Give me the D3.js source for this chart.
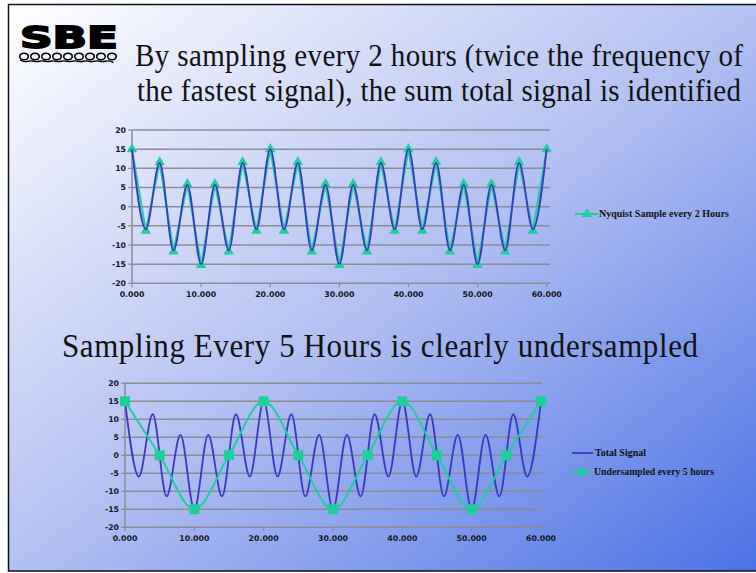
<!DOCTYPE html>
<html>
<head>
<meta charset="utf-8">
<script src="https://cdn.jsdelivr.net/npm/d3@7"></script>
<style>
  html, body { margin: 0; padding: 0; background: #ffffff; }
  svg { display: block; }
</style>
</head>
<body>
<svg id="slide" width="756" height="573"></svg>
<script>
// ---- Data -------------------------------------------------------------
// Sample times (hours) for the 2-hour series
const hours2 = [0, 2, 4, 6, 8, 10, 12, 14, 16, 18, 20, 22, 24, 26, 28, 30,
                32, 34, 36, 38, 40, 42, 44, 46, 48, 50, 52, 54, 56, 58, 60];
// Sum of the component signals, at its turning points
const totalSignal = [15, -5.9, 11.4, -11.4, 5.7, -15, 5.7, -11.4, 11.4, -5.9,
                     15, -5.9, 11.4, -11.4, 5.7, -15, 5.7, -11.4, 11.4, -5.9,
                     15, -5.9, 11.4, -11.4, 5.7, -15, 5.7, -11.4, 11.4, -5.9, 15];
// Samples taken every 2 hours
const nyquistSample = [15, -6.3, 11.6, -11.7, 5.9, -15.2, 5.9, -11.7, 11.6, -6.3,
                       15, -6.3, 11.6, -11.7, 5.9, -15.2, 5.9, -11.7, 11.6, -6.3,
                       15, -6.3, 11.6, -11.7, 5.9, -15.2, 5.9, -11.7, 11.6, -6.3, 15];
// Samples taken every 5 hours
const hours5 = [0, 5, 10, 15, 20, 25, 30, 35, 40, 45, 50, 55, 60];
const undersampled = [15, 0, -15, 0, 15, 0, -15, 0, 15, 0, -15, 0, 15];

const yTicks = [-20, -15, -10, -5, 0, 5, 10, 15, 20];
const xTickValues = [0, 10, 20, 30, 40, 50, 60];
const xTickLabels = ["0.000", "10.000", "20.000", "30.000", "40.000", "50.000", "60.000"];

const seriesNames = {
  nyquist: "Nyquist Sample every 2 Hours",
  total: "Total Signal",
  under: "Undersampled every 5 hours"
};

// ---- Styles -----------------------------------------------------------
const BLUE = "#3838c4";
const TEAL = "#1ecf9c";
const GRID = "#8a8c96";
const LABEL_FONT = "'DejaVu Sans', sans-serif";
const SERIF = "'Liberation Serif', 'Times New Roman', serif";

const svg = d3.select("#slide");

// ---- Slide background -------------------------------------------------
const defs = svg.append("defs");
const grad = defs.append("linearGradient")
  .attr("id", "bg").attr("x1", 0).attr("y1", 0).attr("x2", 1).attr("y2", 1);
grad.append("stop").attr("offset", 0).attr("stop-color", "#ffffff");
grad.append("stop").attr("offset", 0.5).attr("stop-color", "#b3c0f2");
grad.append("stop").attr("offset", 1).attr("stop-color", "#4a70e5");

svg.append("rect").attr("width", 756).attr("height", 573).attr("fill", "#ffffff");
svg.append("rect").attr("x", 8).attr("y", 4).attr("width", 760).attr("height", 567)
  .attr("fill", "url(#bg)");
svg.append("rect").attr("x", 8.5).attr("y", 4.5).attr("width", 760).attr("height", 566.5)
  .attr("fill", "none").attr("stroke", "#111").attr("stroke-width", 1.5);

// ---- Logo -------------------------------------------------------------
const logo = svg.append("g");
logo.append("text")
  .attr("x", 20).attr("y", 48)
  .attr("font-family", "'DejaVu Sans', Arial, sans-serif")
  .attr("font-weight", "bold").attr("font-size", 31)
  .attr("textLength", 98).attr("lengthAdjust", "spacingAndGlyphs")
  .attr("stroke", "#000").attr("stroke-width", 1.8)
  .attr("fill", "#000").text("SBE");
// row of curls under the letters
const curls = d3.range(9).map(i => 24 + i * 11);
logo.selectAll("ellipse.curl").data(curls).join("ellipse")
  .attr("class", "curl")
  .attr("cx", d => d).attr("cy", 56.5).attr("rx", 4.3).attr("ry", 3.3)
  .attr("fill", "none").attr("stroke", "#000").attr("stroke-width", 1.6);
logo.append("path")
  .attr("d", d3.line().curve(d3.curveBasis)(
    d3.range(0, 99, 5.5).map((v, i) => [20 + v, i % 2 ? 62.5 : 60])))
  .attr("fill", "none").attr("stroke", "#000").attr("stroke-width", 1.4);

// ---- Headings ---------------------------------------------------------
// Slightly tall, narrow serif lines, justified to a fixed width
const heading = (x, y, w, size, str) => svg.append("text")
  .attr("transform", `translate(${x},${y}) scale(1,1.1)`)
  .attr("font-family", SERIF).attr("font-size", size).attr("fill", "#111")
  .attr("textLength", w).attr("lengthAdjust", "spacing")
  .text(str);

heading(135, 66, 608, 29, "By sampling  every 2 hours (twice the frequency of");
heading(137, 101, 604, 29, "the fastest signal), the sum total signal is identified");
heading(62, 357, 636, 31, "Sampling Every 5 Hours is clearly undersampled");

// ---- Chart helper -----------------------------------------------------
function drawFrame(g, x, y, xEnd, xLabelY) {
  // horizontal gridlines
  g.selectAll("line.grid").data(yTicks).join("line")
    .attr("class", "grid")
    .attr("x1", x(0)).attr("x2", xEnd)
    .attr("y1", d => y(d)).attr("y2", d => y(d))
    .attr("stroke", GRID).attr("stroke-width", 1.5);
  // y axis with left ticks
  g.append("line").attr("x1", x(0)).attr("x2", x(0))
    .attr("y1", y(20)).attr("y2", y(-20))
    .attr("stroke", GRID).attr("stroke-width", 1.5);
  g.selectAll("line.ytick").data(yTicks).join("line")
    .attr("class", "ytick")
    .attr("x1", x(0) - 4).attr("x2", x(0))
    .attr("y1", d => y(d)).attr("y2", d => y(d))
    .attr("stroke", GRID).attr("stroke-width", 1.2);
  g.selectAll("text.ylab").data(yTicks).join("text")
    .attr("class", "ylab")
    .attr("x", x(0) - 6).attr("y", d => y(d) + 3)
    .attr("text-anchor", "end")
    .attr("font-family", LABEL_FONT).attr("font-weight", "bold").attr("font-size", 7.8)
    .attr("fill", "#15151f").text(d => d);
  // x ticks
  g.selectAll("line.xtick").data(xTickValues).join("line")
    .attr("class", "xtick")
    .attr("x1", d => x(d)).attr("x2", d => x(d))
    .attr("y1", y(-20)).attr("y2", y(-20) + 4)
    .attr("stroke", GRID).attr("stroke-width", 1.2);
  g.selectAll("text.xlab").data(xTickValues).join("text")
    .attr("class", "xlab")
    .attr("x", d => x(d)).attr("y", xLabelY)
    .attr("text-anchor", "middle")
    .attr("font-family", LABEL_FONT).attr("font-weight", "bold").attr("font-size", 7.8)
    .attr("fill", "#15151f").text((d, i) => xTickLabels[i]);
}

const triangle = d3.symbol().type(d3.symbolTriangle).size(48);

// ---- Chart 1: every 2 hours ------------------------------------------
{
  const g = svg.append("g");
  const x = d3.scaleLinear().domain([0, 60]).range([132, 546.7]);
  const y = d3.scaleLinear().domain([-20, 20]).range([283.3, 130]);
  drawFrame(g, x, y, 550, 297);

  const ny = hours2.map((h, i) => [h, nyquistSample[i]]);
  const tot = hours2.map((h, i) => [h, totalSignal[i]]);

  g.append("path").datum(ny)
    .attr("d", d3.line().x(d => x(d[0])).y(d => y(d[1])))
    .attr("fill", "none").attr("stroke", TEAL).attr("stroke-width", 2);
  g.selectAll("path.tri").data(ny).join("path")
    .attr("class", "tri")
    .attr("transform", d => `translate(${x(d[0])},${y(d[1])})`)
    .attr("d", triangle).attr("fill", TEAL);
  g.append("path").datum(tot)
    .attr("d", d3.line().curve(d3.curveMonotoneX).x(d => x(d[0])).y(d => y(d[1])))
    .attr("fill", "none").attr("stroke", BLUE).attr("stroke-width", 1.8);

  // legend
  const lg = g.append("g");
  lg.append("line").attr("x1", 575).attr("x2", 598).attr("y1", 214).attr("y2", 214)
    .attr("stroke", TEAL).attr("stroke-width", 2);
  lg.append("path").attr("transform", "translate(587,214)")
    .attr("d", triangle).attr("fill", TEAL);
  lg.append("text").attr("x", 599).attr("y", 217)
    .attr("font-family", SERIF).attr("font-weight", "bold").attr("font-size", 9.5)
    .attr("textLength", 130).attr("lengthAdjust", "spacingAndGlyphs")
    .attr("fill", "#111").text(seriesNames.nyquist);
}

// ---- Chart 2: every 5 hours ------------------------------------------
{
  const g = svg.append("g");
  const x = d3.scaleLinear().domain([0, 60]).range([125, 541]);
  const y = d3.scaleLinear().domain([-20, 20]).range([527.3, 383.3]);
  drawFrame(g, x, y, 541.7, 541);

  const tot = hours2.map((h, i) => [h, totalSignal[i]]);
  const und = hours5.map((h, i) => [h, undersampled[i]]);

  g.append("path").datum(tot)
    .attr("d", d3.line().curve(d3.curveMonotoneX).x(d => x(d[0])).y(d => y(d[1])))
    .attr("fill", "none").attr("stroke", BLUE).attr("stroke-width", 1.8);
  g.append("path").datum(und)
    .attr("d", d3.line().curve(d3.curveCatmullRom.alpha(0)).x(d => x(d[0])).y(d => y(d[1])))
    .attr("fill", "none").attr("stroke", TEAL).attr("stroke-width", 2);
  g.selectAll("rect.sq").data(und).join("rect")
    .attr("class", "sq")
    .attr("x", d => x(d[0]) - 5).attr("y", d => y(d[1]) - 5)
    .attr("width", 10).attr("height", 10).attr("fill", TEAL);

  // legend
  const lg = g.append("g");
  lg.append("line").attr("x1", 572).attr("x2", 593).attr("y1", 453).attr("y2", 453)
    .attr("stroke", BLUE).attr("stroke-width", 1.8);
  lg.append("text").attr("x", 595).attr("y", 456)
    .attr("font-family", SERIF).attr("font-weight", "bold").attr("font-size", 9.5)
    .attr("textLength", 51).attr("lengthAdjust", "spacingAndGlyphs")
    .attr("fill", "#111").text(seriesNames.total);
  lg.append("line").attr("x1", 572).attr("x2", 593).attr("y1", 472).attr("y2", 472)
    .attr("stroke", TEAL).attr("stroke-width", 2);
  lg.append("rect").attr("x", 578.5).attr("y", 468.5).attr("width", 7).attr("height", 7)
    .attr("fill", TEAL);
  lg.append("text").attr("x", 594).attr("y", 475)
    .attr("font-family", SERIF).attr("font-weight", "bold").attr("font-size", 9.5)
    .attr("textLength", 120).attr("lengthAdjust", "spacingAndGlyphs")
    .attr("fill", "#111").text(seriesNames.under);
}
</script>
</body>
</html>
